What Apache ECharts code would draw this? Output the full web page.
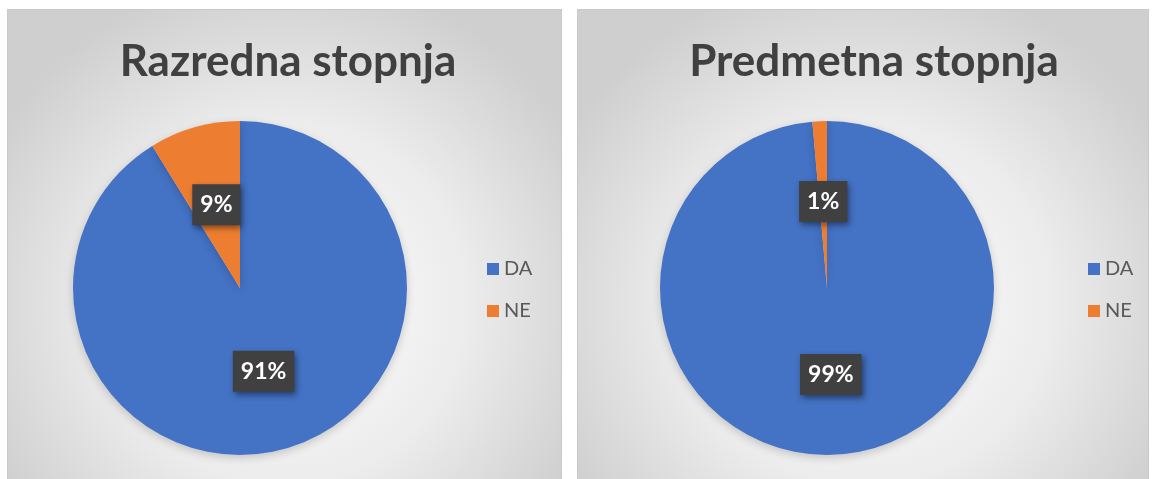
<!DOCTYPE html>
<html lang="sl">
<head>
    <meta charset="UTF-8">
    <script type="text/javascript" src="https://cdn.jsdelivr.net/npm/echarts@6/dist/echarts.min.js"></script>
    <style>
        html, body { margin: 0; padding: 0; background: #ffffff; }
        .panel {
            position: absolute; top: 9px; height: 475px;
            border: 1px solid #c9c9c9; box-sizing: border-box;
            background: radial-gradient(ellipse 60% 70% at 50% 62%, #ffffff 0%, #ececec 55%, #cfcfcf 100%);
        }
        #chart { position: absolute; left: 0; top: 0; width: 1152px; height: 479px; }
    </style>
</head>
<body>
    <div class="panel" style="left: 7px; width: 555px;"></div>
    <div class="panel" style="left: 577px; width: 572px;"></div>
    <div id="chart"></div>
</body>

<script>
    // kategorije
    var categories = ["DA", "NE"];
    // naslovi
    var chartTitles = ["Razredna stopnja", "Predmetna stopnja"];
    // vrednosti (v %)
    var razrednaValues = [91.2, 8.8];
    var predmetnaValues = [98.6, 1.4];
    var colors = ["#4472C4", "#ED7D31"];

    var chart = echarts.init(document.getElementById("chart"));

    function makeData(values) {
        var list = [];
        for (var i = 0; i < categories.length; i++) {
            list.push({ name: categories[i], value: values[i] });
        }
        return list;
    }

    function makePie(center, values) {
        return {
            type: "pie",
            center: center,
            radius: 167,
            startAngle: 90,
            clockwise: true,
            animation: false,
            silent: true,
            data: makeData(values),
            itemStyle: {
                borderWidth: 0,
                shadowColor: "rgba(0,0,0,0.18)",
                shadowBlur: 8,
                shadowOffsetY: 3
            },
            label: {
                show: true,
                position: "inside",
                formatter: function (p) { return Math.round(p.percent) + "%"; },
                color: "#ffffff",
                fontFamily: "Lato",
                fontWeight: "bold",
                fontSize: 23,
                backgroundColor: "#404040",
                padding: [10, 8, 8, 8],
                shadowColor: "rgba(0,0,0,0.45)",
                shadowBlur: 6,
                shadowOffsetX: 2,
                shadowOffsetY: 3
            },
            labelLine: { show: false }
        };
    }

    function makeLegend(left) {
        return {
            data: categories,
            orient: "vertical",
            left: left,
            top: 254,
            icon: "rect",
            itemWidth: 12,
            itemHeight: 12,
            itemGap: 22,
            selectedMode: false,
            textStyle: { color: "#595959", fontSize: 20, fontFamily: "Lato" }
        };
    }

    function makeTitle(x, text) {
        return {
            text: text,
            left: x,
            top: 35,
            textAlign: "center",
            textStyle: { color: "#404040", fontSize: 44, fontWeight: "bold", fontFamily: "Lato" }
        };
    }

    chart.setOption({
        color: colors,
        title: [makeTitle(283, chartTitles[0]), makeTitle(869, chartTitles[1])],
        legend: [makeLegend(482), makeLegend(1083)],
        series: [makePie([240, 288], razrednaValues), makePie([827, 288], predmetnaValues)]
    });
</script>
</html>
